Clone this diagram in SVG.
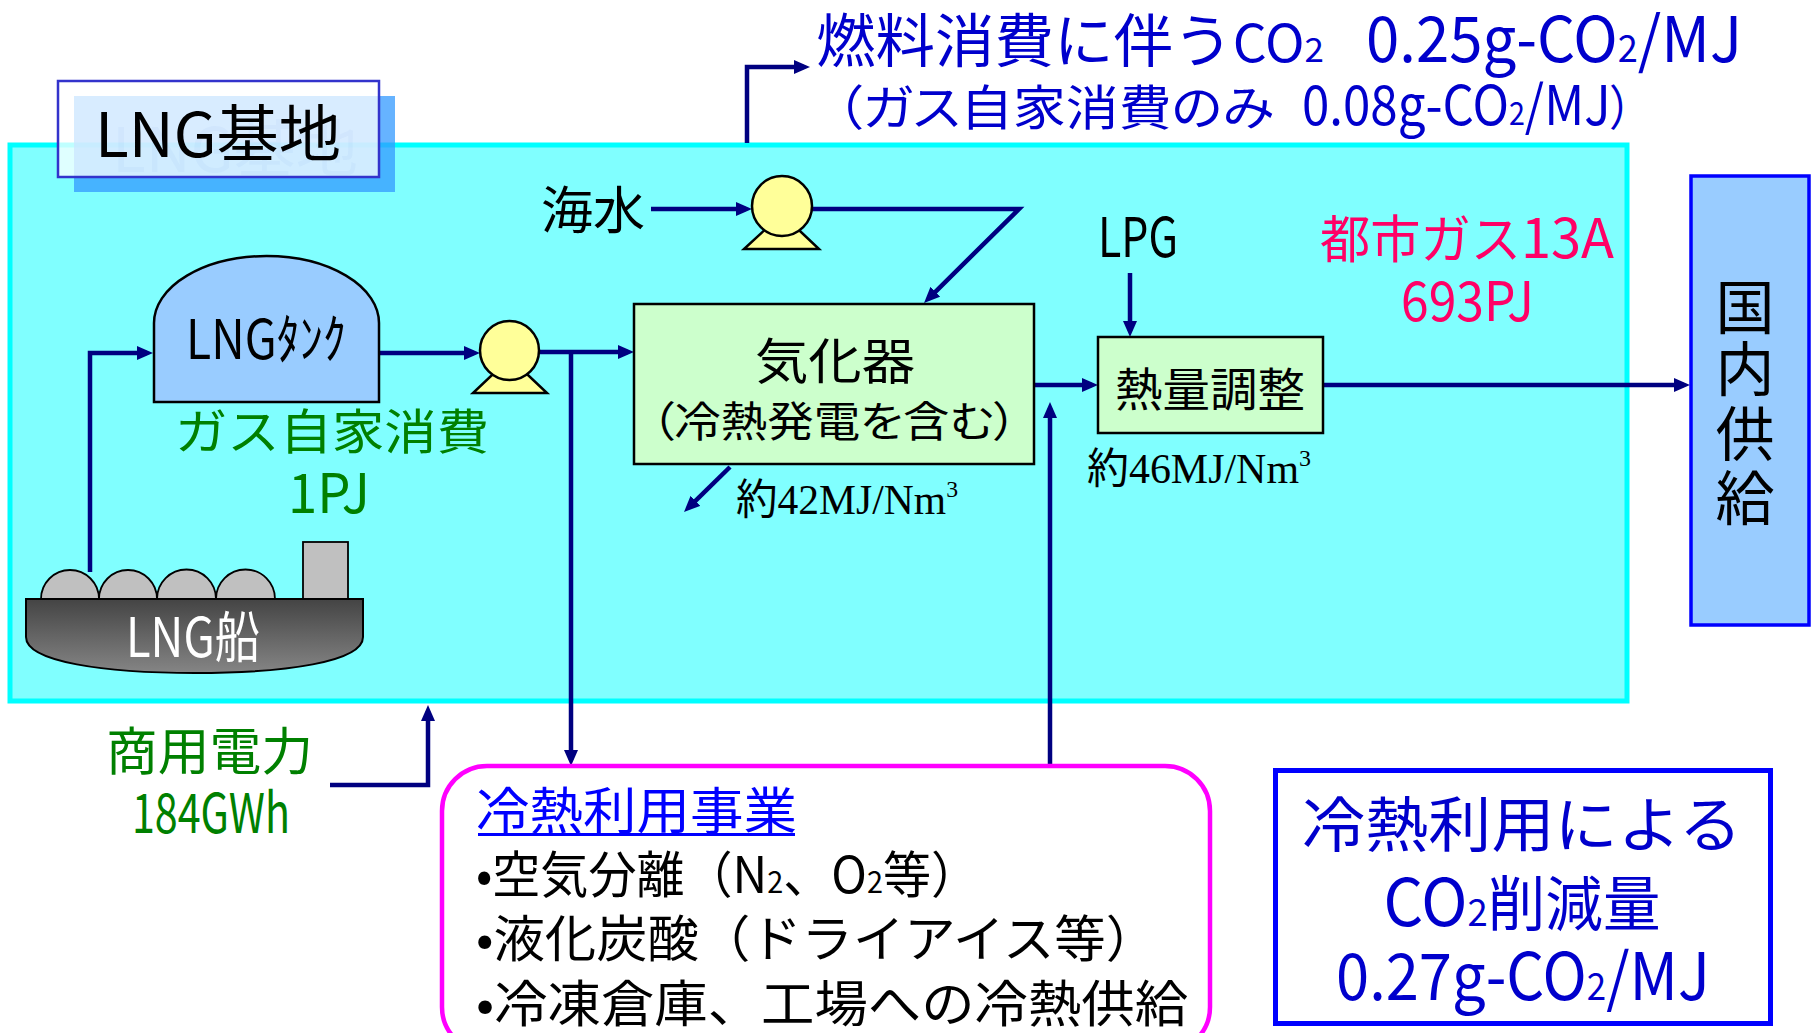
<svg xmlns="http://www.w3.org/2000/svg" width="1820" height="1033" viewBox="0 0 1820 1033">
  <defs>
    <style>
      .jp { font-family: "Noto Sans CJK JP", "Noto Sans", sans-serif; }
      .palt { font-feature-settings: "palt"; }
      .serif { font-family: "Liberation Serif", "Noto Sans CJK JP", serif; fill: #000; }
      .blk { fill: #000; }
      .grn { fill: #008000; }
      .pink { fill: #FF0066; }
      .navytxt { fill: #0000CC; }
      .conn { fill: none; stroke: #000080; stroke-width: 4.5; stroke-linejoin: miter; }
      .pumpbody { fill: #FFFF99; stroke: #000; stroke-width: 2.5; }
      .box { fill: #CCFFCC; stroke: #000; stroke-width: 2.5; }
      .gray { fill: #C0C0C0; stroke: #000; stroke-width: 1.8; }
    </style>
    <marker id="ah" markerWidth="16" markerHeight="14" refX="10" refY="7" orient="auto" markerUnits="userSpaceOnUse">
      <path d="M0,0 L16,7 L0,14 Z" fill="#000080"/>
    </marker>
    <linearGradient id="hull" x1="0" y1="0" x2="0" y2="1">
      <stop offset="0" stop-color="#444444"/>
      <stop offset="1" stop-color="#858585"/>
    </linearGradient>
  </defs>

  <rect width="1820" height="1033" fill="#FFFFFF"/>

  <!-- LNG terminal area -->
  <g id="terminal">
    <rect x="10" y="145" width="1617" height="556" fill="#80FFFF" stroke="#00FFFF" stroke-width="5"/>
  </g>

  <!-- terminal title label with drop shadow -->
  <g id="terminal-label">
    <rect x="74" y="96" width="321" height="96" fill="#3399FF" fill-opacity="0.75"/>
    <rect x="58" y="81" width="321" height="96" fill="#FFFFFF" fill-opacity="0.75" stroke="#3333CC" stroke-width="2.5"/>
    <text class="jp" x="112" y="172" font-size="62" textLength="246" lengthAdjust="spacingAndGlyphs" fill="#2050C0" fill-opacity="0.035">LNG基地</text>
    <text class="jp blk" x="95" y="157" font-size="62" textLength="246" lengthAdjust="spacingAndGlyphs">LNG基地</text>
  </g>

  <!-- connectors -->
  <g id="connectors">
    <path class="conn" d="M90,572 V353 H147" marker-end="url(#ah)"/>
    <path class="conn" d="M379,353 H474" marker-end="url(#ah)"/>
    <path class="conn" d="M539,352 H628" marker-end="url(#ah)"/>
    <path class="conn" d="M571,352 V760" marker-end="url(#ah)"/>
    <path class="conn" d="M651,209 H746" marker-end="url(#ah)"/>
    <path class="conn" d="M812,209 H1019 L928.3,298.8" marker-end="url(#ah)"/>
    <path class="conn" d="M730,467 L688.3,507.8" marker-end="url(#ah)"/>
    <path class="conn" d="M1034,385 H1092" marker-end="url(#ah)"/>
    <path class="conn" d="M1130,273 V331" marker-end="url(#ah)"/>
    <path class="conn" d="M1050,766 V408" marker-end="url(#ah)"/>
    <path class="conn" d="M1323,385 H1684" marker-end="url(#ah)"/>
    <path class="conn" d="M747,143 V67 H804" marker-end="url(#ah)"/>
    <path class="conn" d="M330,785 H428 V711" marker-end="url(#ah)"/>
  </g>

  <!-- LNG carrier -->
  <g id="lng-ship">
    <path class="gray" d="M41,599 A29,29 0 0 1 99,599 Z"/>
    <path class="gray" d="M99,599 A29,29 0 0 1 157,599 Z"/>
    <path class="gray" d="M157,599 A29,29 0 0 1 216,599 Z"/>
    <path class="gray" d="M216,599 A29,29 0 0 1 275,599 Z"/>
    <rect class="gray" x="303" y="542" width="45" height="57"/>
    <path d="M26,599 H363 V637 C363,662 285,673 195,673 C105,673 26,662 26,637 Z" fill="url(#hull)" stroke="#000" stroke-width="2"/>
    <text class="jp" x="126" y="657" font-size="55" textLength="134" lengthAdjust="spacingAndGlyphs" fill="#FFFFFF">LNG船</text>
  </g>

  <!-- LNG tank -->
  <g id="lng-tank">
    <path d="M154,402 V323 A112.5,67 0 0 1 379,323 V402 Z" fill="#99CCFF" stroke="#000" stroke-width="2.5"/>
    <text class="jp blk" x="186" y="359" font-size="54" textLength="160" lengthAdjust="spacingAndGlyphs">LNGﾀﾝｸ</text>
  </g>

  <g id="self-use">
    <text class="jp grn" x="175" y="449" font-size="48" textLength="314" lengthAdjust="spacingAndGlyphs">ガス自家消費</text>
    <text class="jp grn" x="288" y="513" font-size="55" textLength="82" lengthAdjust="spacingAndGlyphs">1PJ</text>
  </g>

  <!-- pumps -->
  <g id="pump-seawater">
    <polygon class="pumpbody" points="744,249 819,249 782,214"/>
    <circle class="pumpbody" cx="782" cy="206" r="30"/>
  </g>
  <g id="pump-lng">
    <polygon class="pumpbody" points="473,393 547,393 510,358"/>
    <circle class="pumpbody" cx="509.5" cy="350.5" r="29.5"/>
  </g>

  <g id="seawater">
    <text class="jp blk" x="541" y="229" font-size="51" textLength="104" lengthAdjust="spacingAndGlyphs">海水</text>
  </g>

  <!-- vaporizer -->
  <g id="vaporizer">
    <rect class="box" x="634" y="304" width="400" height="160"/>
    <text class="jp blk" x="835" y="379" font-size="49" text-anchor="middle" textLength="160" lengthAdjust="spacingAndGlyphs">気化器</text>
    <text class="jp blk palt" x="834" y="437" font-size="42" text-anchor="middle" textLength="366" lengthAdjust="spacingAndGlyphs">（冷熱発電を含む）</text>
  </g>
  <text class="serif" x="736" y="514" font-size="42" textLength="222" lengthAdjust="spacingAndGlyphs">約42MJ/Nm<tspan font-size="24" dy="-17">3</tspan></text>

  <!-- calorific adjustment -->
  <g id="calorie-adjust">
    <rect class="box" x="1098" y="337" width="225" height="96"/>
    <text class="jp blk" x="1210" y="406" font-size="46" text-anchor="middle" textLength="190" lengthAdjust="spacingAndGlyphs">熱量調整</text>
  </g>
  <text class="serif" x="1087" y="483" font-size="42" textLength="224" lengthAdjust="spacingAndGlyphs">約46MJ/Nm<tspan font-size="24" dy="-17">3</tspan></text>

  <g id="lpg">
    <text class="jp blk" x="1098" y="257" font-size="55" textLength="80" lengthAdjust="spacingAndGlyphs">LPG</text>
  </g>

  <g id="city-gas">
    <text class="jp pink" x="1320" y="258" font-size="51" textLength="294" lengthAdjust="spacingAndGlyphs">都市ガス<tspan font-size="55">13A</tspan></text>
    <text class="jp pink" x="1401" y="321" font-size="55" textLength="133" lengthAdjust="spacingAndGlyphs">693PJ</text>
  </g>

  <!-- domestic supply -->
  <g id="domestic-supply">
    <rect x="1691" y="176" width="118" height="449" fill="#99CCFF" stroke="#0000FF" stroke-width="3.5"/>
    <text class="jp blk" x="1745" y="329" font-size="59" text-anchor="middle">国</text>
    <text class="jp blk" x="1745" y="391" font-size="59" text-anchor="middle">内</text>
    <text class="jp blk" x="1745" y="456" font-size="59" text-anchor="middle">供</text>
    <text class="jp blk" x="1745" y="520" font-size="59" text-anchor="middle">給</text>
  </g>

  <!-- fuel-consumption CO2 -->
  <g id="fuel-co2">
    <text class="jp navytxt" x="816" y="62" font-size="58" textLength="508" lengthAdjust="spacingAndGlyphs">燃料消費に伴う<tspan font-size="52">CO</tspan><tspan font-size="34">2</tspan></text>
    <text class="jp navytxt" x="1366" y="62" font-size="63" textLength="376" lengthAdjust="spacingAndGlyphs">0.25g-CO<tspan font-size="38">2</tspan>/MJ</text>
    <text class="jp navytxt palt" x="836" y="125" font-size="48" textLength="438" lengthAdjust="spacingAndGlyphs">（ガス自家消費のみ</text>
    <text class="jp navytxt palt" x="1302" y="125" font-size="55" textLength="330" lengthAdjust="spacingAndGlyphs">0.08g-CO<tspan font-size="32">2</tspan>/MJ<tspan font-size="48">）</tspan></text>
  </g>

  <!-- purchased electricity -->
  <g id="grid-power">
    <text class="jp grn" x="106" y="770" font-size="51" textLength="207" lengthAdjust="spacingAndGlyphs">商用電力</text>
    <text class="jp grn" x="132" y="833" font-size="55" textLength="158" lengthAdjust="spacingAndGlyphs">184GWh</text>
  </g>

  <!-- cold energy businesses -->
  <g id="cold-energy-use">
    <rect x="442" y="766" width="768" height="286" rx="45" ry="45" fill="#FFFFFF" stroke="#FF00FF" stroke-width="4.5"/>
    <text class="jp" x="476" y="829" font-size="50" textLength="321" lengthAdjust="spacingAndGlyphs" fill="#0000FF">冷熱利用事業</text>
    <rect x="478" y="833" width="317" height="3" fill="#0000FF"/>
    <text class="jp blk" x="476" y="893" font-size="50" textLength="503" lengthAdjust="spacingAndGlyphs">•空気分離（N<tspan font-size="30">2</tspan>、O<tspan font-size="30">2</tspan>等）</text>
    <text class="jp blk" x="476" y="957" font-size="50" textLength="681" lengthAdjust="spacingAndGlyphs">•液化炭酸（ドライアイス等）</text>
    <text class="jp blk" x="476" y="1022" font-size="50" textLength="712" lengthAdjust="spacingAndGlyphs">•冷凍倉庫、工場への冷熱供給</text>
  </g>

  <!-- CO2 reduction -->
  <g id="co2-reduction">
    <rect x="1275.5" y="770.5" width="495" height="253" fill="#FFFFFF" stroke="#0000FF" stroke-width="5"/>
    <text class="jp navytxt" x="1522" y="847" font-size="60" text-anchor="middle" textLength="440" lengthAdjust="spacingAndGlyphs">冷熱利用による</text>
    <text class="jp navytxt" x="1522" y="926" font-size="60" text-anchor="middle" textLength="277" lengthAdjust="spacingAndGlyphs"><tspan font-size="65">CO</tspan><tspan font-size="38">2</tspan>削減量</text>
    <text class="jp navytxt" x="1523" y="1000" font-size="65" text-anchor="middle" textLength="374" lengthAdjust="spacingAndGlyphs">0.27g-CO<tspan font-size="38">2</tspan>/MJ</text>
  </g>
</svg>
